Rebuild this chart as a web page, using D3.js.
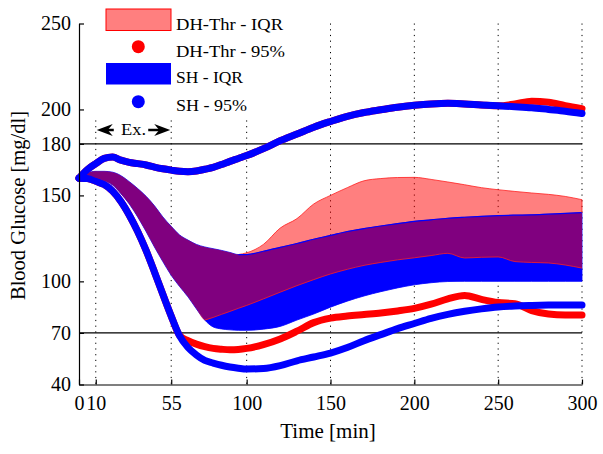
<!DOCTYPE html>
<html><head><meta charset="utf-8">
<script src="https://cdn.jsdelivr.net/npm/d3@7"></script>
<style>body{margin:0;background:#fff} text{font-family:"Liberation Serif","Times New Roman",serif;}</style>
</head><body><svg id="c" width="603" height="454"></svg>
<script>
// ---- data (Time in min, Blood Glucose in mg/dl) ----
const time = [0,5,10,15,20,25,30,35,40,45,50,55,60,65,70,75,80,85,90,95,100,
  110,120,130,140,150,160,170,180,190,200,210,220,230,240,250,260,270,280,290,300];

const shIqrUpper = [160,163,164,164,163.5,161.5,158,154,149.5,144,137.5,132,127,124,121.5,120,119,118,116.8,115.6,115.6,
  117.5,119.8,122,124.5,126.7,129,130.7,132.2,133.6,134.9,135.8,136.7,137.3,137.8,138.2,138.5,138.7,139.1,139.5,140];
const shIqrLower = [160,160,159.5,158.5,156,151,145,137.5,129,120,111.5,103.5,97,91,84,77.5,73.5,72.3,71.8,71.5,71.5,
  72.2,73.8,77.5,81,85,88.5,91.5,94,96.2,98,99.2,99.9,100,100,100,100,100,100,100,100];

const dhIqrUpper = [160,163,164,164,163.5,161.5,158,154,149.5,144,137.5,132,127,124,121.5,120,119,118,116.8,115.6,116.6,
  121.5,131,136.5,145,150,154.5,158.5,159.8,160.4,160.5,159.3,157.8,156.2,154.5,153.3,152.3,151.4,150.6,149.4,147.5];
const dhIqrLower = [160,160,159.5,158.5,156,151,145,137.5,129,120,111.5,103.5,97,91,84,77.5,79,80.8,82.5,84.3,86,
  89.8,93.7,97.5,101,104.3,107,109.3,111,112.5,113.7,115,116.3,113.6,114,114.2,111.5,111,110.7,109.5,107.7];

const shP95Upper = [160,165,168.5,171.5,172.3,170.5,169.2,168.5,167.7,166.5,165.5,164.7,164,163.8,164.2,165.2,166.3,168,169.8,171.5,173.2,
  177.2,181.8,185.7,189.7,193,196,198.2,199.8,201.3,202.4,203.2,203.6,203.2,202.6,202.1,201.6,201,200,199,197.6];
const shP95Lower = [160,159.8,158.2,156.3,152.5,146.5,138.5,129,118,105.5,92.5,79.8,68.3,61.5,57.2,54,52.5,51.2,50.2,49.5,49,
  49.3,51,53.8,56,58.3,61.5,65.5,69,72.5,75.5,78.5,80.8,82.6,84,85.1,85.7,86,86.2,86.3,86.3];

const dhP95Upper = [160,165,168.5,171.5,172.3,170.5,169.2,168.5,167.7,166.5,165.5,164.7,164,163.8,164.2,165.2,166.3,168,169.8,171.5,173.2,
  177.2,181.8,185.7,189.7,193,196,198.2,199.8,201.3,202.4,203.2,203.6,203.2,202.6,202.1,203.2,204.8,204.2,202.2,200.5];
const dhP95Lower = [160,159.8,158.2,156.3,152.5,146.5,138.5,129,118,105.5,92.5,79.8,68.5,65.5,63.5,62,61,60.5,60.2,60.4,61,
  63.2,66.5,71,76,78.6,79.8,80.7,81.6,82.8,84.3,86.7,89.8,91.8,89.5,87.7,87,83,81,80.5,80.5];

const xTicks = [0,10,55,100,150,200,250,300];
const xGrid = [10,55,100,150,200,250,300];
const yTicks = [40,70,100,150,180,200,250];
const refLines = [70,180];
const legendLabels = ["DH-Thr - IQR","DH-Thr - 95%","SH - IQR","SH - 95%"];
const exLabel = "Ex.";
const exRange = [10,55];

// ---- drawing ----
const svg = d3.select("#c");
const x = d3.scaleLinear().domain([0,300]).range([79,582]);
const y = d3.scaleLinear().domain([40,250]).range([384.5,23.5]);
const FONT = '"Liberation Serif","Times New Roman",serif';

// grid
svg.append("g").selectAll("line").data(xGrid).join("line")
  .attr("x1",d=>x(d)).attr("x2",d=>x(d)).attr("y1",y(250)).attr("y2",y(40))
  .attr("stroke","#000").attr("stroke-width",1).attr("stroke-dasharray","1.2,4.5");

// legend background (covers grid)
svg.append("rect").attr("x",85).attr("y",4).attr("width",213).attr("height",113).attr("fill","#fff");

// reference lines
svg.append("g").selectAll("line").data(refLines).join("line")
  .attr("x1",x(0)).attr("x2",x(300)).attr("y1",d=>y(d)).attr("y2",d=>y(d))
  .attr("stroke","#000").attr("stroke-width",1.2);

const idx = d3.range(time.length);
const curve = d3.curveMonotoneX;
const band = (up, lo) => d3.area().curve(curve).x(i=>x(time[i])).y0(i=>y(lo[i])).y1(i=>y(up[i]));
const line = (arr) => d3.line().curve(curve).x(i=>x(time[i])).y(i=>y(arr[i]));

// SH IQR (opaque blue)
svg.append("path").attr("d",band(shIqrUpper,shIqrLower)(idx)).attr("fill","#0000ff").attr("stroke","#0000ff").attr("stroke-width",0.8);
// DH-Thr IQR (semi-transparent red -> pink / purple on overlap)
svg.append("path").attr("d",band(dhIqrUpper,dhIqrLower)(idx)).attr("fill","#ff0000").attr("fill-opacity",0.5)
  .attr("stroke","none");
// edges
svg.append("path").attr("d",line(dhIqrUpper).defined(i=>dhIqrUpper[i]>shIqrUpper[i]+0.5 || time[i]===95)(idx))
  .attr("fill","none").attr("stroke","#ff2020").attr("stroke-width",0.8);
svg.append("path").attr("d",line(dhIqrLower).defined(i=>dhIqrLower[i]>shIqrLower[i]+0.5 || time[i]===75)(idx))
  .attr("fill","none").attr("stroke","#ff2020").attr("stroke-width",0.8);
svg.append("path").attr("d",line(shIqrUpper).defined(i=>dhIqrUpper[i]>shIqrUpper[i]+0.5 || time[i]===95)(idx))
  .attr("fill","none").attr("stroke","#0000ff").attr("stroke-width",1.2);
svg.append("line").attr("x1",x(300)).attr("x2",x(300)).attr("y1",y(dhIqrUpper[40])).attr("y2",y(shIqrUpper[40]))
  .attr("stroke","#ff2020").attr("stroke-width",0.8);

// 95% lines
const thick = (arr,col) => svg.append("path").attr("d",line(arr)(idx)).attr("fill","none")
  .attr("stroke",col).attr("stroke-width",7).attr("stroke-linecap","round").attr("stroke-linejoin","round");
thick(dhP95Upper,"#ff0000");
thick(dhP95Lower,"#ff0000");
thick(shP95Upper,"#0000ff");
thick(shP95Lower,"#0000ff");

// axes
const ax = svg.append("g").attr("transform",`translate(0,${y(40)})`)
  .call(d3.axisBottom(x).tickValues(xTicks).tickFormat(d3.format("d")).tickSizeInner(-5).tickSizeOuter(0).tickPadding(11.5));
const ay = svg.append("g").attr("transform",`translate(${x(0)},0)`)
  .call(d3.axisLeft(y).tickValues(yTicks).tickFormat(d3.format("d")).tickSizeInner(-5).tickSizeOuter(0).tickPadding(8));
[ax,ay].forEach(g=>{
  g.attr("font-family",FONT).attr("font-size",20);
  g.selectAll("text").attr("fill","#000");
  g.selectAll("line,path").attr("stroke","#000").attr("stroke-width",1.2);
});

// axis titles
svg.append("text").attr("x",328).attr("y",438).attr("text-anchor","middle")
  .attr("font-size",21).attr("font-family",FONT).text("Time [min]");
svg.append("text").attr("transform","translate(25,205.5) rotate(-90)").attr("text-anchor","middle")
  .attr("font-size",20.5).attr("font-family",FONT).text("Blood Glucose [mg/dl]");

// Ex. annotation
const exY = 130;
svg.append("text").attr("x",(x(exRange[0])+x(exRange[1]))/2).attr("y",exY+4.5).attr("text-anchor","middle")
  .attr("font-size",16).attr("font-family",FONT).attr("textLength",25).attr("lengthAdjust","spacingAndGlyphs").text(exLabel);
const x0 = x(exRange[0])+1, x1 = x(exRange[1])-1;
svg.append("line").attr("x1",x0+10).attr("x2",x0+17).attr("y1",exY).attr("y2",exY).attr("stroke","#000").attr("stroke-width",2.5);
svg.append("line").attr("x1",x1-10).attr("x2",x1-22).attr("y1",exY).attr("y2",exY).attr("stroke","#000").attr("stroke-width",2.5);
svg.append("path").attr("d",`M${x0},${exY} L${x0+16},${exY-6} L${x0+11},${exY} L${x0+16},${exY+6} Z`).attr("fill","#000");
svg.append("path").attr("d",`M${x1},${exY} L${x1-16},${exY-6} L${x1-11},${exY} L${x1-16},${exY+6} Z`).attr("fill","#000");

// legend
const lg = svg.append("g");
lg.append("rect").attr("x",106).attr("y",9).attr("width",65).attr("height",21.5)
  .attr("fill","#ff0000").attr("fill-opacity",0.5).attr("stroke","#ff0000").attr("stroke-width",1);
lg.append("circle").attr("cx",138.3).attr("cy",46.7).attr("r",6.5).attr("fill","#ff0000");
lg.append("rect").attr("x",106).attr("y",63).attr("width",65).attr("height",21.5).attr("fill","#0000ff");
lg.append("circle").attr("cx",138.3).attr("cy",101.7).attr("r",6.5).attr("fill","#0000ff");
const lgBase = [30,57,83.3,110.5];
const lgLen = [107,109,67,71];
lg.selectAll("text").data(legendLabels).join("text")
  .attr("x",176).attr("y",(d,i)=>lgBase[i]).attr("font-size",16).attr("font-family",FONT)
  .attr("textLength",(d,i)=>lgLen[i]).attr("lengthAdjust","spacingAndGlyphs").text(d=>d);
</script></body></html>
